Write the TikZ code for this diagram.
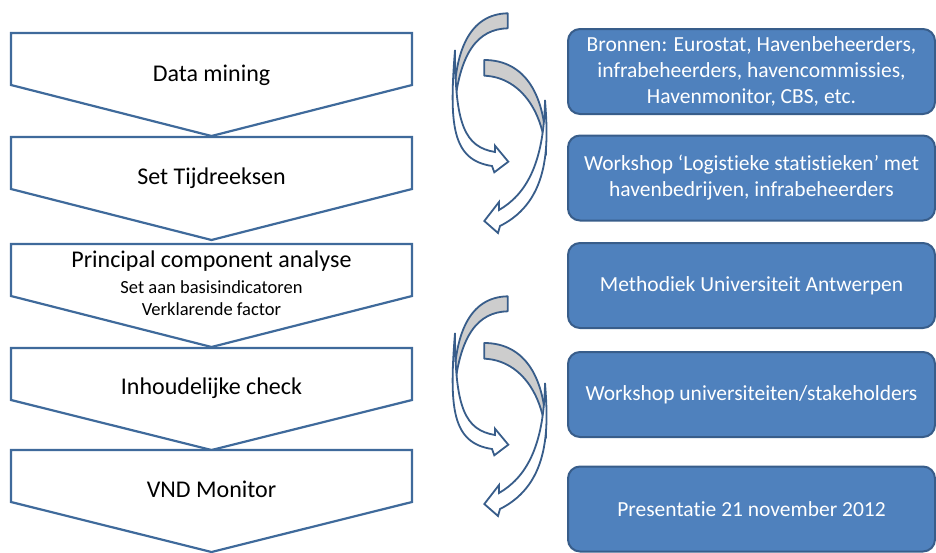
\documentclass[tikz,border=0pt]{standalone}
\usepackage{fontspec}
\setmainfont[RawFeature={-liga;-clig;-calt;-dlig}]{Carlito}
\usepackage{tikz}
\definecolor{chevblue}{HTML}{3F6A9B}
\definecolor{boxblue}{HTML}{4F81BD}
\definecolor{rimblue}{HTML}{385D8A}
\definecolor{backgray}{HTML}{CDCDCD}
\tikzset{
    stepshape/.style={draw=chevblue, line width=2.2pt, fill=white, line join=miter},
    steplabel/.style={anchor=base, font=\fontsize{24}{29}\selectfont},
    sublabel/.style={anchor=base, font=\fontsize{18.5}{22}\selectfont},
    infobox/.style={draw=rimblue, line width=2pt, fill=boxblue, rounded corners=12pt,
        text=white, align=center, minimum width=367pt, minimum height=85pt,
        font=\fontsize{21.5}{26}\selectfont},
    backband/.style={draw=rimblue, line width=1.8pt, fill=backgray, line join=round},
    frontband/.style={draw=rimblue, line width=1.8pt, fill=white, line join=miter}
}

\begin{document}
\begin{tikzpicture}[x=1pt, y=-1pt]
        \useasboundingbox (0,0) rectangle (936,552);
        \clip (0,0) rectangle (936,552);
        % steps on the left
        \draw[stepshape] (11,33)--(412,33)--(412,85)--(211.5,136)--(11,85)--cycle;
        \draw[stepshape] (11,137)--(412,137)--(412,189)--(211.5,240)--(11,189)--cycle;
        \draw[stepshape] (11,244)--(412,244)--(412,296)--(211.5,347)--(11,296)--cycle;
        \draw[stepshape] (11,348)--(412,348)--(412,400)--(211.5,450)--(11,400)--cycle;
        \draw[stepshape] (11,450)--(412,450)--(412,502)--(211.5,552)--(11,502)--cycle;
        \node[steplabel] (L1) at (211.5,81.7) {Data mining};
        \node[steplabel] (L2) at (211.5,184.5) {Set Tijdreeksen};
        \node[steplabel] (L3) at (211.5,267) {Principal component analyse};
        \node[sublabel] (L3a) at (211.5,293) {Set aan basisindicatoren};
        \node[sublabel] (L3b) at (211.5,315) {Verklarende factor};
        \node[steplabel] (L4) at (211.5,394) {Inhoudelijke check};
        \node[steplabel] (L5) at (211.5,497) {VND Monitor};
        % turning arrows, upper pair
        \begin{scope}
            \draw[backband] (507.7,13.3)--(507.7,28.3) .. controls (478,29) and (459,52) .. (454,112)
                .. controls (453,50) and (470,14) .. (507.7,13.3)--cycle;
            \draw[frontband] (455,50) .. controls (449,125) and (452,160) .. (492,166)--(494.3,172.3)
                --(508.3,161.7)--(495,145.7)--(495,152) .. controls (465,147) and (455,125) .. (455,50)--cycle;
            \draw[backband] (484.3,60)--(484.3,75.7) .. controls (518,77) and (543,108) .. (546,155)
                .. controls (547,95) and (525,60) .. (484.3,60)--cycle;
            \draw[frontband] (545,100) .. controls (548,140) and (552,200) .. (500,226)--(498,233)
                --(484.3,221)--(499,202)--(499,210) .. controls (525,195) and (544,165) .. (545,100)--cycle;
        \end{scope}
        % turning arrows, lower pair
        \begin{scope}[shift={(0,283)}]
            \draw[backband] (507.7,13.3)--(507.7,28.3) .. controls (478,29) and (459,52) .. (454,112)
                .. controls (453,50) and (470,14) .. (507.7,13.3)--cycle;
            \draw[frontband] (455,50) .. controls (449,125) and (452,160) .. (492,166)--(494.3,172.3)
                --(508.3,161.7)--(495,145.7)--(495,152) .. controls (465,147) and (455,125) .. (455,50)--cycle;
            \draw[backband] (484.3,60)--(484.3,75.7) .. controls (518,77) and (543,108) .. (546,155)
                .. controls (547,95) and (525,60) .. (484.3,60)--cycle;
            \draw[frontband] (545,100) .. controls (548,140) and (552,200) .. (500,226)--(498,233)
                --(484.3,221)--(499,202)--(499,210) .. controls (525,195) and (544,165) .. (545,100)--cycle;
        \end{scope}
        % boxes on the right
        \node[infobox] (R1) at (751.5,71.5) {Bronnen: Eurostat, Havenbeheerders,\\infrabeheerders, havencommissies,\\Havenmonitor, CBS, etc.};
        \node[infobox] (R2) at (751.5,178) {Workshop ‘Logistieke statistieken’ met\\havenbedrijven, infrabeheerders};
        \node[infobox] (R3) at (751.5,285.5) {Methodiek Universiteit Antwerpen};
        \node[infobox] (R4) at (751.5,394.5) {Workshop universiteiten/stakeholders};
        \node[infobox] (R5) at (751.5,509) {Presentatie 21 november 2012};
    \end{tikzpicture}
\end{document}
